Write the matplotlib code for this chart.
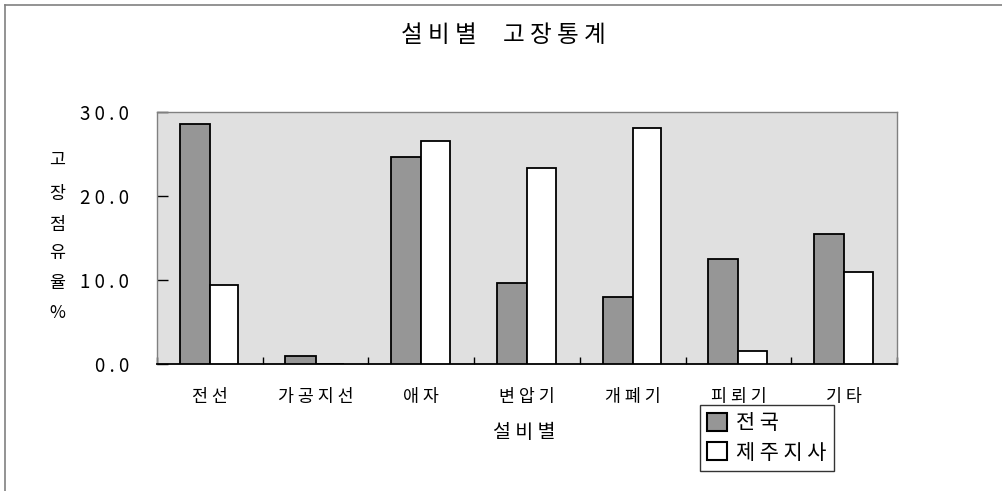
import matplotlib
matplotlib.use("Agg")
import numpy as np
import matplotlib.pyplot as plt
from matplotlib.lines import Line2D
from matplotlib.patches import Patch

plt.rcParams['font.family'] = ['Noto Sans CJK KR', 'DejaVu Sans']

categories = ["전 선", "가 공 지 선", "애 자", "변 압 기", "개 폐 기", "피 뢰 기", "기 타"]
nationwide = [28.6, 1.0, 24.6, 9.6, 8.0, 12.5, 15.5]
jeju = [9.4, 0.0, 26.5, 23.3, 28.1, 1.5, 11.0]
series_names = ["전 국", "제 주 지 사"]
y_ticks = [0, 10, 20, 30]
ylabel_chars = ["고", "장", "점", "유", "율", "%"]

fig = plt.figure(figsize=(10.03, 4.91), dpi=100)
ax = fig.add_axes([157 / 1003, 1 - 364 / 491, 740 / 1003, 252 / 491])
ax.set_facecolor("#e0e0e0")

x = np.arange(len(categories))
w = 0.285
ax.bar(x - w, nationwide, w, align="edge", color="#969696", edgecolor="black", lw=1.3, zorder=3)
ax.bar(x, jeju, w * 0.95, align="edge", color="white", edgecolor="black", lw=1.3, zorder=3)

ax.set_xlim(-0.5, len(categories) - 0.5)
ax.set_ylim(0, 30)
ax.set_yticks(y_ticks)
# spaced digits like the original typesetting
ax.set_yticklabels([" ".join(f"{v:.1f}") for v in y_ticks], fontsize=13.5)
ax.tick_params(axis="y", direction="in", length=8, width=1, pad=20)

ax.set_xticks(x)
ax.set_xticklabels(categories, fontsize=12.5)
ax.tick_params(axis="x", which="major", length=0, pad=17)
ax.set_xticks(np.arange(-0.5, len(categories)), minor=True)
ax.tick_params(axis="x", which="minor", direction="in", length=5, width=1)

for side in ("top", "right", "left"):
    ax.spines[side].set_color("#808080")
    ax.spines[side].set_linewidth(1)
ax.spines["bottom"].set_color("black")
ax.spines["bottom"].set_linewidth(1.3)

fig.text(503 / 1003, 1 - 36 / 491, "설 비 별     고 장 통 계", ha="center", va="center", fontsize=17)
fig.text(524 / 1003, 1 - 432 / 491, "설 비 별", ha="center", va="center", fontsize=14)

ys = [160, 194, 225, 253, 283, 313]
for ch, yy in zip(ylabel_chars, ys):
    fig.text(57 / 1003, 1 - yy / 491, ch, ha="center", va="center", fontsize=12.5)

handles = [Patch(facecolor="#969696", edgecolor="black", lw=1.5),
           Patch(facecolor="white", edgecolor="black", lw=1.5)]
leg = fig.legend(handles, series_names, loc="upper left",
                 bbox_to_anchor=(700 / 1003, 1 - 405 / 491), fontsize=15,
                 frameon=True, fancybox=False, handlelength=0.95, handleheight=0.95,
                 handletextpad=0.45, borderpad=0.35, labelspacing=0.35, borderaxespad=0)
leg.get_frame().set_edgecolor("black")
leg.get_frame().set_linewidth(1)

# outer frame
fig.add_artist(Line2D([5 / 1003, 1], [1 - 5 / 491] * 2, color="#808080", lw=1.2))
fig.add_artist(Line2D([5 / 1003] * 2, [0, 1 - 5 / 491], color="#808080", lw=1.2))

fig.savefig("out.png", dpi=100)
